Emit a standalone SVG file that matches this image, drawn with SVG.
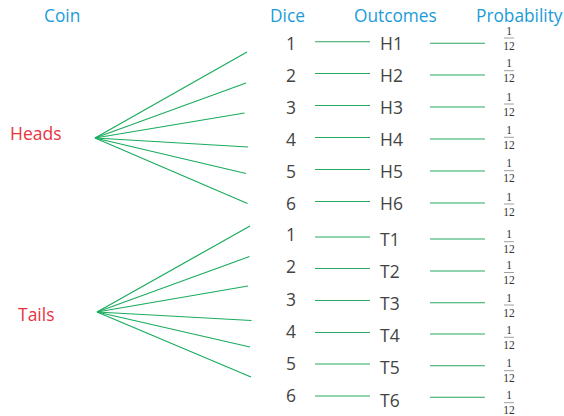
<svg xmlns="http://www.w3.org/2000/svg" width="564" height="416" viewBox="0 0 564 416">
  <style>
    .hdr { font-family: "Open Sans", "Liberation Sans", sans-serif; font-size: 17.3px; fill: #1b9bd8; }
    .coin { font-family: "Open Sans", "Liberation Sans", sans-serif; font-size: 17.5px; fill: #e8343f; }
    .lbl { font-family: "Open Sans", "Liberation Sans", sans-serif; font-size: 17.5px; fill: #444; }
    .frac { font-family: "Liberation Serif", serif; font-size: 11.5px; fill: #333; text-anchor: middle; }
    .bar { stroke: #888; stroke-width: 0.8; }
    .br { stroke: #1aab5e; stroke-width: 1.2; fill: none; }
    .ln { stroke: #27a862; stroke-width: 1.1; fill: none; }
  </style>
  <defs>
    <g id="twelfth">
      <text class="frac" x="0" y="-3.4">1</text>
      <line class="bar" x1="-5" y1="0" x2="5" y2="0"/>
      <text class="frac" x="0" y="11.5">12</text>
    </g>
  </defs>

  <!-- column headings -->
  <g id="headings">
    <text class="hdr" x="44" y="22">Coin</text>
    <text class="hdr" x="270" y="22">Dice</text>
    <text class="hdr" x="354" y="22">Outcomes</text>
    <text class="hdr" x="476" y="22">Probability</text>
  </g>

  <!-- coin nodes -->
  <g id="heads"><text class="coin" x="10" y="140">Heads</text></g>
  <g id="tails"><text class="coin" x="18" y="321">Tails</text></g>

  <!-- connectors -->
  <g id="connectors">
    <!-- Heads branches -->
    <line class="br" x1="95" y1="138" x2="247" y2="52"/>
    <line class="br" x1="95" y1="138" x2="246" y2="83"/>
    <line class="br" x1="95" y1="138" x2="244.5" y2="113"/>
    <line class="br" x1="95" y1="138" x2="248" y2="147"/>
    <line class="br" x1="95" y1="138" x2="246" y2="173.5"/>
    <line class="br" x1="95" y1="138" x2="247.5" y2="203.5"/>
    <!-- Tails branches -->
    <line class="br" x1="97" y1="312" x2="250" y2="226"/>
    <line class="br" x1="97" y1="312" x2="249.5" y2="256.5"/>
    <line class="br" x1="97" y1="312" x2="248" y2="286"/>
    <line class="br" x1="97" y1="312" x2="251.5" y2="320.5"/>
    <line class="br" x1="97" y1="312" x2="250" y2="347"/>
    <line class="br" x1="97" y1="312" x2="251" y2="377"/>
    <!-- dice to outcome -->
    <line class="ln" x1="315" y1="41.7" x2="370" y2="41.7"/>
    <line class="ln" x1="315" y1="73.5" x2="370" y2="73.5"/>
    <line class="ln" x1="315" y1="105.5" x2="370" y2="105.5"/>
    <line class="ln" x1="315" y1="137.5" x2="370" y2="137.5"/>
    <line class="ln" x1="315" y1="169.5" x2="370" y2="169.5"/>
    <line class="ln" x1="315" y1="201.5" x2="370" y2="201.5"/>
    <line class="ln" x1="315" y1="237" x2="370" y2="237"/>
    <line class="ln" x1="315" y1="268.5" x2="370" y2="268.5"/>
    <line class="ln" x1="315" y1="300.5" x2="370" y2="300.5"/>
    <line class="ln" x1="315" y1="332.5" x2="370" y2="332.5"/>
    <line class="ln" x1="315" y1="364" x2="370" y2="364"/>
    <line class="ln" x1="315" y1="396" x2="370" y2="396"/>
    <!-- outcome to probability -->
    <line class="ln" x1="430" y1="43.3" x2="485" y2="43.3"/>
    <line class="ln" x1="430" y1="75" x2="485" y2="75"/>
    <line class="ln" x1="430" y1="107" x2="485" y2="107"/>
    <line class="ln" x1="430" y1="139" x2="485" y2="139"/>
    <line class="ln" x1="430" y1="171" x2="485" y2="171"/>
    <line class="ln" x1="430" y1="203" x2="485" y2="203"/>
    <line class="ln" x1="430" y1="239" x2="485" y2="239"/>
    <line class="ln" x1="430" y1="271" x2="485" y2="271"/>
    <line class="ln" x1="430" y1="302.7" x2="485" y2="302.7"/>
    <line class="ln" x1="430" y1="334" x2="485" y2="334"/>
    <line class="ln" x1="430" y1="365.7" x2="485" y2="365.7"/>
    <line class="ln" x1="430" y1="397.3" x2="485" y2="397.3"/>
  </g>

  <!-- dice values -->
  <g id="dice" class="lbl" text-anchor="middle">
    <text x="291" y="50">1</text>
    <text x="291" y="82">2</text>
    <text x="291" y="114">3</text>
    <text x="291" y="146">4</text>
    <text x="291" y="178">5</text>
    <text x="291" y="210">6</text>
    <text x="291" y="241">1</text>
    <text x="291" y="273">2</text>
    <text x="291" y="305.5">3</text>
    <text x="291" y="337.5">4</text>
    <text x="291" y="369.5">5</text>
    <text x="291" y="401.5">6</text>
  </g>

  <!-- outcomes -->
  <g id="outcomes" class="lbl">
    <text x="380" y="50">H1</text>
    <text x="380" y="82">H2</text>
    <text x="380" y="114">H3</text>
    <text x="380" y="146">H4</text>
    <text x="380" y="178">H5</text>
    <text x="380" y="210">H6</text>
    <text x="380" y="246">T1</text>
    <text x="380" y="278">T2</text>
    <text x="380" y="310">T3</text>
    <text x="380" y="342">T4</text>
    <text x="380" y="373.5">T5</text>
    <text x="380" y="406.5">T6</text>
  </g>

  <!-- probabilities -->
  <g id="probabilities">
    <use href="#twelfth" x="509" y="38"/>
    <use href="#twelfth" x="509" y="70.7"/>
    <use href="#twelfth" x="509" y="104"/>
    <use href="#twelfth" x="509" y="137.3"/>
    <use href="#twelfth" x="509" y="170.7"/>
    <use href="#twelfth" x="509" y="204"/>
    <use href="#twelfth" x="509" y="241.7"/>
    <use href="#twelfth" x="509" y="272.5"/>
    <use href="#twelfth" x="509" y="305"/>
    <use href="#twelfth" x="509" y="337.3"/>
    <use href="#twelfth" x="509" y="370.7"/>
    <use href="#twelfth" x="509" y="402.7"/>
  </g>
</svg>
